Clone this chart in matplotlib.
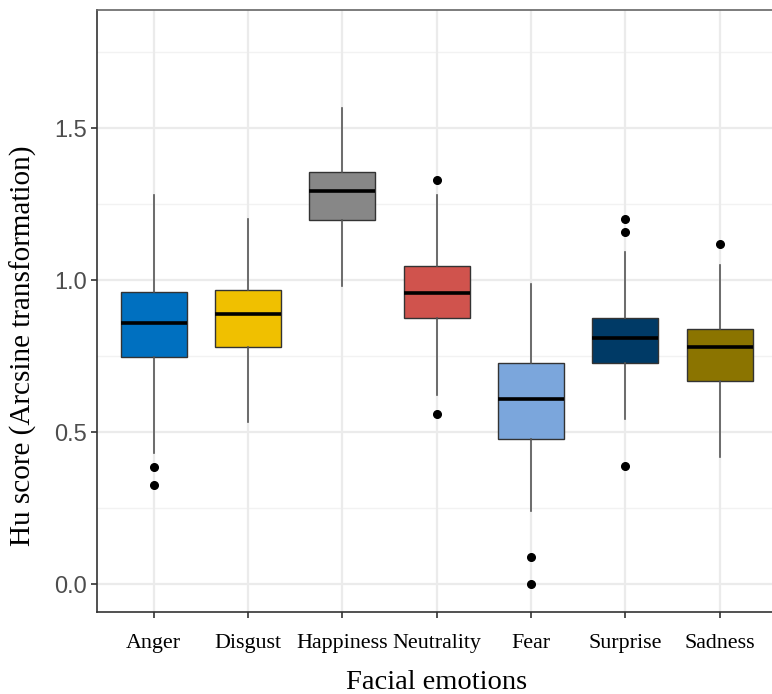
import matplotlib
matplotlib.use("Agg")
import matplotlib.pyplot as plt
import numpy as np

emotions = ["Anger", "Disgust", "Happiness", "Neutrality", "Fear", "Surprise", "Sadness"]
colors = ["#0070C0", "#F0C000", "#878787", "#D0534D", "#7BA6DC", "#003A66", "#8B7400"]

# box statistics
q1 = [0.747, 0.780, 1.199, 0.877, 0.479, 0.729, 0.669]
med = [0.859, 0.889, 1.295, 0.957, 0.608, 0.809, 0.780]
q3 = [0.960, 0.967, 1.355, 1.048, 0.729, 0.877, 0.840]
whislo = [0.431, 0.533, 0.982, 0.623, 0.241, 0.544, 0.420]
whishi = [1.280, 1.200, 1.568, 1.280, 0.988, 1.092, 1.050]
fliers = [[0.387, 0.327], [], [], [1.329, 0.559], [0.089, 0.0], [1.200, 1.158, 0.388], [1.119]]

stats = []
for i, name in enumerate(emotions):
    stats.append(dict(label=name, q1=q1[i], med=med[i], q3=q3[i],
                      whislo=whislo[i], whishi=whishi[i], fliers=fliers[i]))

fig = plt.figure(figsize=(7.72, 6.94), dpi=100)
ax = fig.add_axes([0.1256, 0.1182, 0.880, 0.8674])

# grid like ggplot theme_bw
ax.set_axisbelow(True)
for y in [0.25, 0.75, 1.25, 1.75]:
    ax.axhline(y, color="#F2F2F2", lw=1.0, zorder=0)
for y in [0, 0.5, 1.0, 1.5]:
    ax.axhline(y, color="#EBEBEB", lw=1.6, zorder=0)
for x in range(1, 8):
    ax.axvline(x, color="#EBEBEB", lw=1.6, zorder=0)

bp = ax.bxp(stats, positions=range(1, 8), widths=0.7, patch_artist=True,
            showcaps=False,
            boxprops=dict(edgecolor="#333333", linewidth=1.0),
            whiskerprops=dict(color="#555555", linewidth=1.2),
            medianprops=dict(color="black", linewidth=2.6),
            flierprops=dict(marker="o", markerfacecolor="black", markeredgecolor="black",
                            markersize=5.5))
for patch, c in zip(bp["boxes"], colors):
    patch.set_facecolor(c)

ax.set_xlim(0.4, 7.6)
ax.set_ylim(-0.091, 1.889)
ax.set_yticks([0.0, 0.5, 1.0, 1.5])
ax.set_yticklabels(["0.0", "0.5", "1.0", "1.5"], family="Liberation Sans",
                   fontsize=17, color="#4D4D4D")
ax.set_xticks(range(1, 8))
ax.set_xticklabels(emotions, family="Liberation Serif", fontsize=15.8, color="black")
ax.tick_params(axis="both", length=4, width=1.2, color="#333333")
ax.tick_params(axis="x", pad=12)
ax.tick_params(axis="y", pad=3)

for side in ["left", "bottom", "top", "right"]:
    ax.spines[side].set_color("#333333")
    ax.spines[side].set_linewidth(1.2)
ax.spines["top"].set_color("#666666")

ax.set_xlabel("Facial emotions", family="Liberation Serif", fontsize=20.5)
ax.xaxis.set_label_coords(0.5, -0.096, transform=ax.transAxes)
ax.xaxis.label.set_va("top")
ax.set_ylabel("Hu score (Arcsine transformation)", family="Liberation Serif", fontsize=21)
ax.yaxis.set_label_coords(-0.089, 0.443)

fig.savefig("out.png", dpi=100)
